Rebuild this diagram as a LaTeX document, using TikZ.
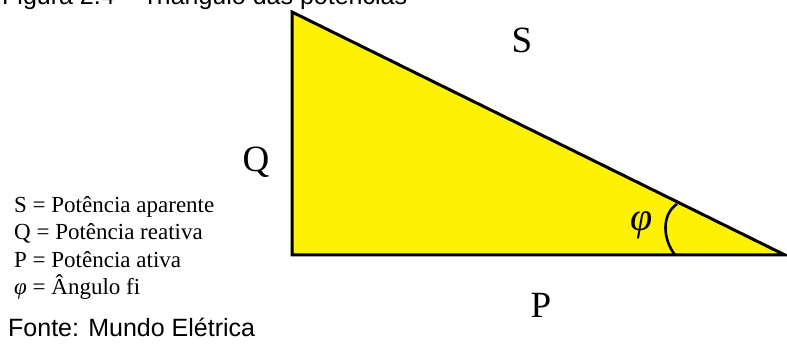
\documentclass[tikz,border=0pt]{standalone}
\usepackage{fontspec}
\setmainfont{Liberation Serif}
\newfontfamily\arialf{Liberation Sans}
\begin{document}
\begin{tikzpicture}[x=1pt,y=-1pt,
  lbl/.style={font=\fontsize{37}{37}\selectfont, inner sep=0pt},
  leg/.style={font=\fontsize{23}{23}\selectfont, anchor=base west, inner sep=0pt},
  phistyle/.style={font=\itshape\fontsize{40}{40}\selectfont, inner sep=0pt},
  captxt/.style={font=\arialf\fontsize{25}{25}\selectfont, anchor=base west, inner sep=0pt}]
\useasboundingbox (0,0) rectangle (787,344);
\coordinate (A) at (292,12);
\coordinate (B) at (292,255);
\coordinate (C) at (785,255);
\filldraw[fill=yellow, draw=black, line width=3pt, line join=miter] (A) -- (B) -- (C) -- cycle;
\coordinate (a1) at (675,255);
\coordinate (a2) at (677,204);
\draw[line width=2.6pt] (a1) .. controls (662,238) and (662,214) .. (a2);
\node[lbl] (S) at (522,40) {S};
\node[lbl] (Q) at (256,162) {Q};
\node[lbl] (P) at (541,305) {P};
\node[phistyle] (phi) at (642,225) {φ};
\node[leg] (l1) at (14,213) {S = Potência aparente};
\node[leg] (l2) at (14,240) {Q = Potência reativa};
\node[leg] (l3) at (14,268) {P = Potência ativa};
\node[leg] (l4) at (14,295) {\textit{φ} = Ângulo fi};
\node[captxt] (src) at (8,337) {Fonte: Mundo Elétrica};
\node[captxt] (title) at (2,5) {Figura 2.4 – Triângulo das potências};
\end{tikzpicture}
\end{document}
